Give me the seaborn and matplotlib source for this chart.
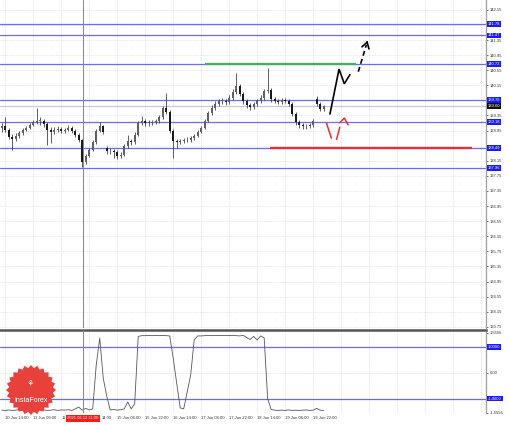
import numpy as np
import pandas as pd
import matplotlib
matplotlib.use("Agg")
import matplotlib.pyplot as plt
import seaborn as sns
from matplotlib.transforms import blended_transform_factory as btf
from matplotlib.patches import Polygon

sns.set_theme(style="white")
plt.rcParams['font.family'] = ['Liberation Sans', 'DejaVu Sans']

# ---------------- data ----------------
open_ = [139.02,139.07,138.97,138.78,138.73,138.81,138.89,138.97,139.02,139.10,
         139.18,139.21,139.21,139.13,138.97,138.92,138.97,139.00,138.94,138.97,
         139.02,138.94,138.84,138.70,138.12,138.28,138.44,138.65,138.94,139.07,
         138.49,138.41,138.41,138.39,138.28,138.31,138.54,138.68,138.65,138.84,
         139.15,139.21,139.15,139.15,139.18,139.21,139.31,139.55,139.45,138.94,
         138.68,138.65,138.68,138.70,138.70,138.76,138.81,138.92,139.02,139.21,
         139.42,139.55,139.66,139.74,139.74,139.71,139.82,139.98,140.13,139.92,
         139.74,139.63,139.58,139.66,139.74,139.82,140.00,140.03,139.79,139.74,
         139.71,139.76,139.74,139.66,139.39,139.18,139.10,139.07,139.07,139.10,
         139.79,139.66,139.52]
close = [139.07,138.97,138.78,138.73,138.81,138.89,138.97,139.02,139.10,139.18,
         139.21,139.21,139.13,138.97,138.92,138.97,139.00,138.94,138.97,139.02,
         138.94,138.84,138.70,138.12,138.28,138.44,138.65,138.94,139.07,138.92,
         138.41,138.41,138.39,138.28,138.31,138.54,138.68,138.65,138.84,139.15,
         139.21,139.15,139.15,139.18,139.21,139.31,139.55,139.45,138.94,138.68,
         138.65,138.68,138.70,138.70,138.76,138.81,138.92,139.02,139.21,139.42,
         139.55,139.66,139.74,139.74,139.71,139.82,139.98,140.13,139.92,139.74,
         139.63,139.58,139.66,139.74,139.82,140.00,140.03,139.79,139.74,139.71,
         139.76,139.74,139.66,139.39,139.18,139.10,139.07,139.07,139.10,139.21,
         139.66,139.52,139.60]
high = [139.15,139.31,139.02,138.85,138.88,138.94,139.03,139.08,139.14,139.24,
        139.55,139.30,139.26,139.17,139.05,139.04,139.08,139.05,139.03,139.10,
        139.06,138.98,138.88,138.74,138.32,138.49,138.70,139.00,139.18,139.10,
        138.55,138.50,138.47,138.43,138.38,138.60,138.84,138.74,138.90,139.20,
        139.34,139.25,139.22,139.24,139.27,139.36,139.60,139.95,139.50,138.98,
        138.74,138.74,138.76,138.77,138.81,138.86,138.97,139.07,139.26,139.48,
        139.62,139.73,139.80,139.82,139.79,139.88,140.04,140.48,140.18,139.96,
        139.80,139.68,139.72,139.80,139.88,140.06,140.61,140.08,139.84,139.78,
        139.82,139.81,139.78,139.70,139.43,139.22,139.15,139.13,139.16,139.27,
        139.87,139.70,139.64]
low = [138.92,138.90,138.72,138.44,138.68,138.76,138.84,138.93,138.98,139.06,
       139.12,139.10,139.05,138.57,138.62,138.86,138.90,138.88,138.89,138.93,
       138.88,138.78,138.64,137.99,138.06,138.24,138.40,138.60,138.90,138.86,
       138.33,138.34,138.22,138.20,138.22,138.27,138.50,138.58,138.60,138.80,
       139.10,139.08,139.08,139.10,139.13,139.16,139.27,139.38,138.88,138.23,
       138.50,138.60,138.62,138.64,138.66,138.71,138.77,138.88,138.98,139.17,
       139.37,139.50,139.60,139.66,139.62,139.66,139.77,139.93,139.86,139.66,
       139.56,139.50,139.53,139.61,139.69,139.77,139.95,139.72,139.68,139.65,
       139.66,139.68,139.60,139.33,139.10,139.02,139.00,138.98,139.02,139.05,
       139.60,139.46,139.48]
indicator = [-1.45,-1.46,-1.44,-1.46,-1.45,-1.43,-1.46,-1.45,-1.44,-1.46,
             -1.42,-1.45,-1.44,-1.46,-1.45,-1.43,-1.46,-1.44,-1.45,-1.43,
             -1.46,-1.40,-1.33,-1.45,-1.38,-1.44,-1.40,0.30,1.36,-0.20,
             -0.90,-1.44,-1.42,-1.45,-1.43,-1.40,-1.13,-1.40,-1.20,1.42,
             1.45,1.45,1.46,1.45,1.46,1.45,1.46,1.45,1.44,0.58,
             -0.40,-1.36,-1.40,-0.74,-0.08,1.28,1.44,1.44,1.45,1.46,
             1.45,1.46,1.45,1.46,1.46,1.45,1.46,1.45,1.44,1.46,
             1.38,1.30,1.42,1.28,1.44,1.36,-1.00,-1.42,-1.45,-1.46,
             -1.45,-1.46,-1.44,-1.46,-1.45,-1.46,-1.45,-1.44,-1.46,-1.45,
             -1.38,-1.45,-1.46]
# visible parts of the time-axis labels ("11 Jun 22:00" and "12 Jun 14:00"
# are partly hidden behind the red cursor label in the reference)
time_labels = ["10 Jun 14:00", "11 Jun 06:00", "11", "",
               "15 Jun 06:00", "15 Jun 22:00", "16 Jun 14:00", "17 Jun 06:00",
               "17 Jun 22:00", "18 Jun 14:00", "19 Jun 06:00", "19 Jun 22:00"]
label_bars = [1, 9, 17, 25, 33, 41, 49, 57, 65, 73, 81, 89]
partial_label = "14:00"
partial_label_end_bar = 31.4
cursor_bar = 23.2
cursor_label = "2021.06.12 11:00"
price_ticks = [133.75, 134.15, 134.55, 134.95, 135.35, 135.75, 136.15, 136.55,
               136.95, 137.35, 137.75, 138.15, 138.55, 138.95, 139.35, 139.75,
               140.15, 140.55, 140.95, 141.35, 141.75, 142.15]
hidden_ticks = [138.55, 139.75, 141.75]   # covered by level boxes in the reference
levels = [141.78, 141.47, 140.72, 139.76, 139.18, 138.49, 137.96]
current_price = 139.60
resistance = 140.72
resistance_span = [58.1, 101.2]
support = 138.49
support_span = [76.6, 134.4]
up_solid_x = [93.8, 96.4, 97.9, 99.5]
up_solid_y = [139.39, 140.58, 140.19, 140.43]
up_dash_x = [101.9, 104.2]
up_dash_y = [140.51, 141.22]
dn1_x = [92.8, 94.2]
dn1_y = [139.15, 138.75]
dn2_x = [95.7, 96.6]
dn2_y = [138.72, 139.04]
dn_head_x = [96.6, 97.9, 99.0]
dn_head_y = [139.16, 139.28, 139.10]
ind_levels = [1.0, -1.0]
ind_ticks = [1.5556, 0.0, -1.5556]
ind_tick_labels = ["1.5556", "0.00", "-1.5556"]

df = pd.DataFrame({"bar": np.arange(len(close)), "open": open_, "high": high,
                   "low": low, "close": close, "ind": indicator})

FS = 3.0
W, H = 510, 425
fig = plt.figure(figsize=(W / 100, H / 100), dpi=100)
fig.patch.set_facecolor("white")
axw = 486 / W
ax = fig.add_axes([0, 1 - 328 / H, axw, 328 / H])
ax2 = fig.add_axes([0, 1 - 413 / H, axw, (413 - 330) / H])

xlim = (-0.5, 138.4)
grid_bars = np.arange(1, 139, 8)
for a in (ax, ax2):
    a.set_facecolor("white")
    a.set_xlim(*xlim)
    for s in ("left", "top", "bottom"):
        a.spines[s].set_visible(False)
    a.spines["right"].set_color("#a0a0a0")
    a.spines["right"].set_linewidth(0.9)
    for gb in grid_bars:
        a.axvline(gb, color="#cccccc", lw=0.5, ls=(0, (1, 1.5)), zorder=0)
    a.axvline(cursor_bar, color="#e06060", lw=0.7, zorder=6)

ax2.spines["top"].set_visible(True)
ax2.spines["top"].set_color("#555555")
ax2.spines["top"].set_linewidth(1.8)

# ---------------- price panel ----------------
ax.set_ylim(133.72, 142.41)
ax.yaxis.tick_right()
ax.set_yticks(price_ticks)
ax.set_yticklabels(["" if t in hidden_ticks else f"{t:.2f}" for t in price_ticks])
ax.tick_params(axis="y", labelsize=FS, length=1.5, width=0.5, pad=1.5,
               colors="#333333", direction="out")
ax.set_xticks([])
for t in price_ticks:
    ax.axhline(t, color="#d4d4d4", lw=0.5, ls=(0, (1, 1.5)), zorder=0)

for lv in levels:
    ax.axhline(lv, color="#6a6aff", lw=0.9, zorder=2)
ax.axhline(current_price, color="#c8c8c8", lw=0.8, zorder=1)
ax.hlines(resistance, *resistance_span, color="#3cb550", lw=1.6, zorder=3)
ax.hlines(support, *support_span, color="#ee2a36", lw=1.6, zorder=3)

o = df["open"].to_numpy(); c = df["close"].to_numpy()
bull = c >= o
body_col = np.where(bull, "#606060", "#1a1a1a")
ax.vlines(df["bar"], df["low"], df["high"], color="#333333", lw=0.55, zorder=4)
ax.bar(df["bar"], np.maximum(np.abs(c - o), 0.012), bottom=np.minimum(o, c),
       width=0.6, color=body_col, edgecolor="none", zorder=5)

# forecast paths
ax.plot(up_solid_x, up_solid_y, color="black", lw=1.2, zorder=7,
        solid_joinstyle="miter")
ax.plot(up_dash_x, up_dash_y, color="black", lw=1.2, ls=(0, (3, 2)), zorder=7)
ax.annotate("", xy=(up_dash_x[1] + 0.35, up_dash_y[1] + 0.11),
            xytext=(up_dash_x[1], up_dash_y[1]),
            arrowprops=dict(arrowstyle="->,head_length=0.35,head_width=0.22",
                            color="black", lw=1.2), zorder=7)
ax.plot(dn1_x, dn1_y, color="#ee2a36", lw=1.1, zorder=7)
ax.plot(dn2_x, dn2_y, color="#ee2a36", lw=1.1, zorder=7)
ax.plot(dn_head_x, dn_head_y, color="#ee2a36", lw=1.1, zorder=7)

tr = btf(ax.transAxes, ax.transData)
for lv in levels:
    ax.text(1.004, lv, f"{lv:.2f}", transform=tr, fontsize=FS, color="white",
            va="center", ha="left", clip_on=False, zorder=10,
            bbox=dict(boxstyle="square,pad=0.2", fc="#1a1aff", ec="none"))
ax.text(1.004, current_price, f"{current_price:.2f}", transform=tr, fontsize=FS,
        color="white", va="center", ha="left", clip_on=False, zorder=10,
        bbox=dict(boxstyle="square,pad=0.2", fc="#111111", ec="none"))

# ---------------- indicator panel ----------------
sns.lineplot(data=df, x="bar", y="ind", ax=ax2, color="#555555", lw=0.6,
             zorder=4)
ax2.set_ylim(-1.56, 1.67)
ax2.set_xlim(*xlim)
ax2.set_ylabel(""); ax2.set_xlabel("")
ax2.yaxis.tick_right()
ax2.set_yticks(ind_ticks)
ax2.set_yticklabels(ind_tick_labels)
ax2.tick_params(axis="y", labelsize=FS, length=1.5, width=0.5, pad=1.5,
                colors="#333333")
ax2.axhline(0, color="#d4d4d4", lw=0.5, ls=(0, (1, 1.5)), zorder=0)
for lv in ind_levels:
    ax2.axhline(lv, color="#6a6aff", lw=0.9, zorder=2)
tr2 = btf(ax2.transAxes, ax2.transData)
for lv in ind_levels:
    ax2.text(1.004, lv, f"{lv:.4f}", transform=tr2, fontsize=FS, color="white",
             va="center", ha="left", clip_on=False, zorder=10,
             bbox=dict(boxstyle="square,pad=0.2", fc="#1a1aff", ec="none"))

ax2.set_xticks(label_bars)
ax2.set_xticklabels(time_labels, ha="left")
ax2.tick_params(axis="x", labelsize=FS, length=0, pad=2.5, colors="#333333")
trx = btf(ax2.transData, ax2.transAxes)
ax2.text(partial_label_end_bar, -0.042, partial_label, transform=trx,
         fontsize=FS, color="#333333", ha="right", va="top", clip_on=False)
ax2.text(cursor_bar, -0.042, cursor_label, transform=trx,
         fontsize=FS, color="white", ha="center", va="top", clip_on=False,
         zorder=12, bbox=dict(boxstyle="square,pad=0.3", fc="#ff1a1a", ec="none"))

# ---------------- logo ----------------
cx, cy, r1, r2 = 31, 390, 25, 22
ang = np.linspace(0, 2 * np.pi, 48, endpoint=False)
rad = np.where(np.arange(48) % 2 == 0, r1, r2)
px = cx + rad * np.cos(ang)
py = cy + rad * np.sin(ang)
star = Polygon(np.column_stack([px / W, 1 - py / H]), closed=True,
               transform=fig.transFigure, fc="#e8403a", ec="none", zorder=20)
fig.add_artist(star)
fig.text(cx / W, 1 - 384 / H, "\u2698", fontsize=6, color="white", ha="center",
         va="center", zorder=21, family="DejaVu Sans")
fig.text(cx / W, 1 - 400 / H, "InstaForex", fontsize=5, color="white",
         ha="center", va="center", zorder=21)

fig.savefig("out.png", dpi=100, facecolor="white")
